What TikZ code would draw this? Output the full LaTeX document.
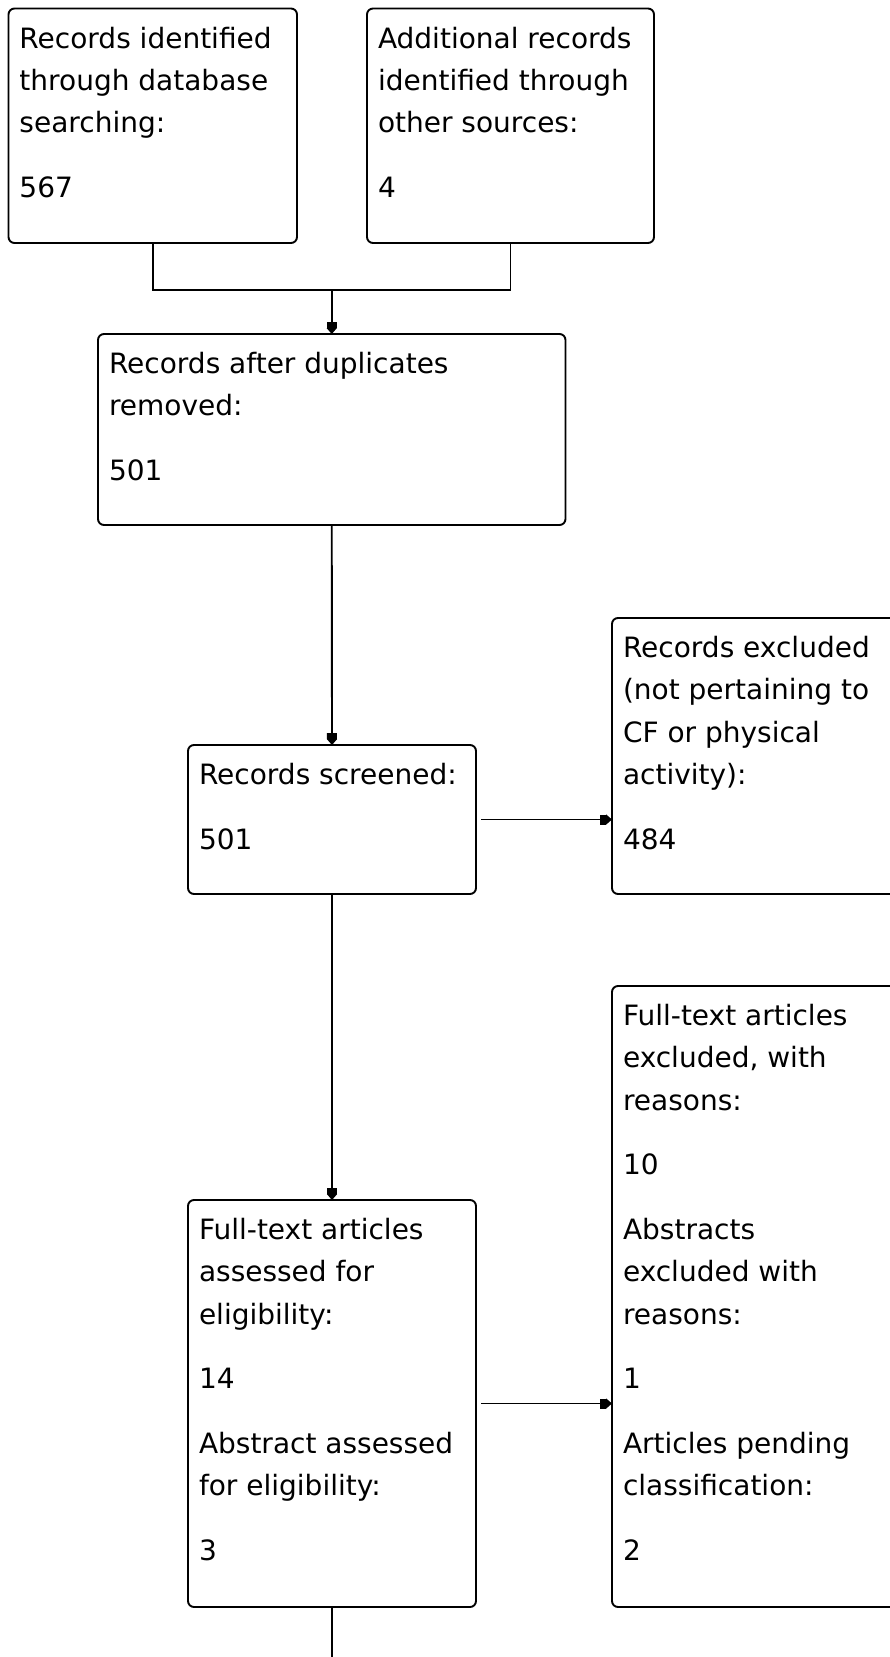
\documentclass[tikz,border=0pt]{standalone}
\usepackage{fontspec}
\setmainfont{DejaVu Sans}
\usetikzlibrary{arrows.meta}

\newcommand{\boxtxt}[3]{\parbox[t][#2][t]{#1}{\strut #3}}

\begin{document}
\begin{tikzpicture}[x=1pt, y=-1pt, line width=1.9pt,
    box/.style={draw, rounded corners=6pt, anchor=north west,
        inner xsep=11pt, inner ysep=10pt, outer sep=0pt,
        font=\fontsize{28}{42.3}\selectfont},
    arr/.style={-{Rectangle[length=6pt,width=10pt]Triangle[length=6pt,width=10pt]}}]
    \def\gap{\\[22.4pt]}
    \def\A{Records identified\\through database\\searching:\gap 567}
    \def\B{Additional records\\identified through\\other sources:\gap 4}
    \def\C{Records after duplicates\\removed:\gap 501}
    \def\D{Records screened:\gap 501}
    \def\E{Records excluded\\(not pertaining to\\CF or physical\\activity):\gap 484}
    \def\F{Full-text articles\\assessed for\\eligibility:\gap 14\gap
        Abstract assessed\\for eligibility:\gap 3}
    \def\G{Full-text articles\\excluded, with\\reasons:\gap 10\gap
        Abstracts\\excluded with\\reasons:\gap 1\gap
        Articles pending\\classification:\gap 2}

    \useasboundingbox (0,0) rectangle (890,1657);
    \clip (0,0) rectangle (890,1657);

    \node[box] (ident) at (8.5,8.5) {\boxtxt{266.5pt}{214.5pt}{\A}};
    \node[box] (other) at (367,8.5) {\boxtxt{265pt}{214.5pt}{\B}};
    \node[box] (dedup) at (98,334) {\boxtxt{445.5pt}{171pt}{\C}};
    \node[box] (screen) at (188,745) {\boxtxt{266pt}{129pt}{\D}};
    \node[box] (excl) at (612,618) {\boxtxt{290pt}{256pt}{\E}};
    \node[box] (full) at (188,1200) {\boxtxt{266pt}{387pt}{\F}};
    \node[box] (fullex) at (612,986) {\boxtxt{290pt}{601pt}{\G}};

    \path (dedup.north) ++(0,-44) coordinate (merge);
    \path (full.south) ++(0,60) coordinate (next);

    \draw (ident.south) |- (merge) -| (other.south);
    \draw[arr] (merge) -- (dedup.north);
    \draw[arr] (dedup.south) -- (screen.north);
    \draw[arr, shorten <=5pt] (screen.east) -- (screen.east -| excl.west);
    \draw[arr] (screen.south) -- (full.north);
    \draw[arr, shorten <=5pt] (full.east) -- (full.east -| fullex.west);
    \draw (full.south) -- (next);
\end{tikzpicture}
\end{document}
